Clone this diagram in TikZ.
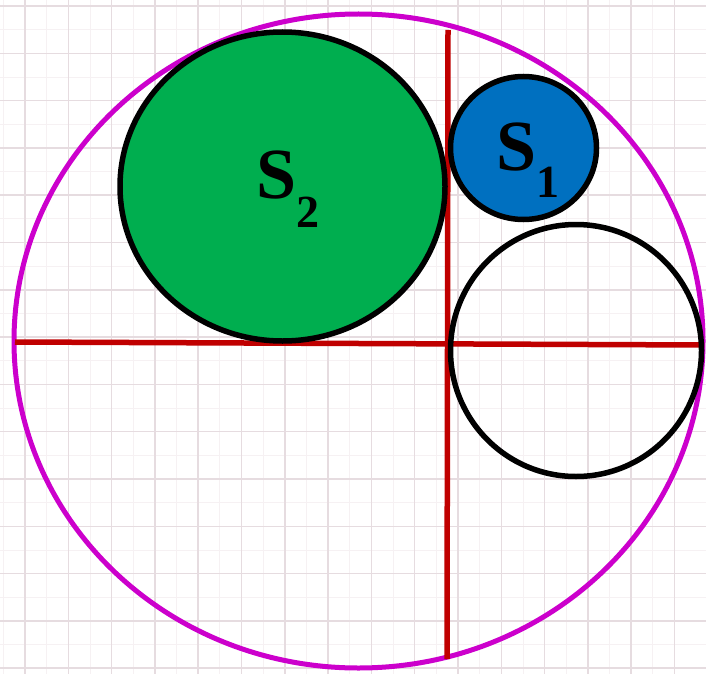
\documentclass[tikz,border=0pt]{standalone}
\usepackage{fontspec}
\setmainfont{Liberation Serif}
\usepackage{tikz}
\definecolor{GridMajor}{HTML}{E6DCE0}
\definecolor{GridMinor}{HTML}{F6F1F3}
\definecolor{Ring}{HTML}{CC00CC}
\definecolor{Axis}{HTML}{C00000}
\definecolor{Green}{HTML}{00AE4F}
\definecolor{Blue}{HTML}{0070C0}

\begin{document}
\begin{tikzpicture}[x=1pt,y=-1pt,
  lbl/.style={font=\fontsize{72}{72}\selectfont\bfseries,anchor=base west,inner sep=0pt}]
  \useasboundingbox (0,0) rectangle (706,674);
  \fill[white] (0,0) rectangle (706,674);
  \foreach \i in {0,...,31} \draw[GridMinor,line width=0.8pt] ({3.35+21.65*\i},0) -- ++(0,674);
  \foreach \j in {0,...,28} \draw[GridMinor,line width=0.8pt] (0,{6+23.65*\j}) -- ++(706,0);
  \foreach \i in {0,...,15} \draw[GridMajor,line width=1.5pt] ({25+43.3*\i},0) -- ++(0,674);
  \foreach \j in {0,...,14} \draw[GridMajor,line width=1.5pt] (0,{6+47.3*\j}) -- ++(706,0);
  \draw[Ring,line width=5pt] (358.5,341) ellipse [x radius=344.5,y radius=327];
  \draw[Axis,line width=5.5pt] (15,342) -- (704,345);
  \draw[Axis,line width=5.5pt] (448,30) -- (447,659);
  \draw[fill=Green,line width=5.5pt] (282.5,186.5) ellipse [x radius=162.5,y radius=154.5];
  \draw[fill=Blue,line width=5.5pt] (523.5,148) ellipse [x radius=73,y radius=71.5];
  \draw[line width=5.5pt] (576,350.5) ellipse [x radius=125.5,y radius=126];
  \node[lbl] (s2) at (256,198) {S\raisebox{-29pt}{\fontsize{46}{46}\selectfont 2}};
  \node[lbl] (s1) at (496,170) {S\raisebox{-27pt}{\fontsize{46}{46}\selectfont 1}};
\end{tikzpicture}
\end{document}
